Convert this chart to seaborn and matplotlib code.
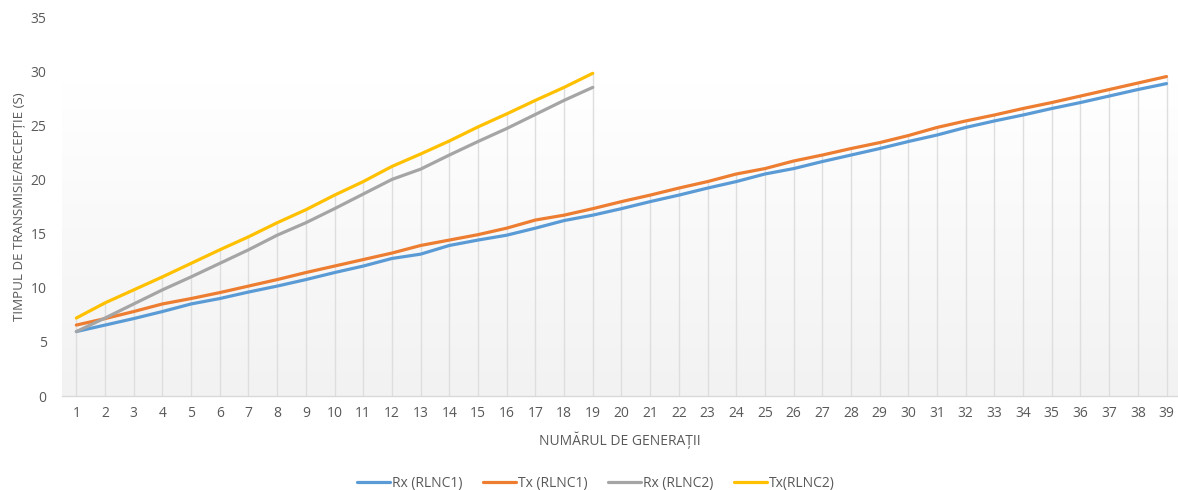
import numpy as np
import pandas as pd
import matplotlib
matplotlib.use("Agg")
import matplotlib.pyplot as plt
import seaborn as sns

# Generation index and measured transmission/reception times (seconds)
gen_rlnc1 = list(range(1, 40))
gen_rlnc2 = list(range(1, 20))

rx_rlnc1 = [5.95, 6.55, 7.15, 7.8, 8.5, 9.0, 9.6, 10.15, 10.75, 11.4,
            12.0, 12.7, 13.1, 13.9, 14.4, 14.85, 15.5, 16.2, 16.7, 17.3,
            17.95, 18.55, 19.2, 19.8, 20.5, 21.0, 21.65, 22.25, 22.85, 23.5,
            24.1, 24.8, 25.4, 25.95, 26.55, 27.1, 27.7, 28.3, 28.85]
tx_rlnc1 = [6.55, 7.15, 7.8, 8.5, 9.0, 9.55, 10.15, 10.75, 11.4, 12.0,
            12.6, 13.2, 13.9, 14.4, 14.9, 15.5, 16.25, 16.7, 17.3, 17.95,
            18.55, 19.2, 19.8, 20.5, 21.0, 21.7, 22.25, 22.85, 23.4, 24.05,
            24.8, 25.4, 25.95, 26.55, 27.1, 27.7, 28.3, 28.9, 29.5]
rx_rlnc2 = [5.95, 7.2, 8.5, 9.8, 11.0, 12.25, 13.5, 14.85, 16.0, 17.3,
            18.65, 20.0, 20.95, 22.25, 23.5, 24.7, 26.0, 27.3, 28.5]
tx_rlnc2 = [7.2, 8.6, 9.8, 11.0, 12.25, 13.5, 14.7, 16.0, 17.2, 18.55,
            19.8, 21.2, 22.35, 23.55, 24.85, 26.05, 27.3, 28.5, 29.8]

series_names = ["Rx (RLNC1)", "Tx (RLNC1)", "Rx (RLNC2)", "Tx(RLNC2)"]
series_colors = ["#5b9bd5", "#ed7d31", "#a5a5a5", "#ffc000"]

frames = [
    pd.DataFrame({"gen": gen_rlnc1, "time": rx_rlnc1, "series": series_names[0]}),
    pd.DataFrame({"gen": gen_rlnc1, "time": tx_rlnc1, "series": series_names[1]}),
    pd.DataFrame({"gen": gen_rlnc2, "time": rx_rlnc2, "series": series_names[2]}),
    pd.DataFrame({"gen": gen_rlnc2, "time": tx_rlnc2, "series": series_names[3]}),
]
df = pd.concat(frames, ignore_index=True)

sns.set_theme(style="white")
plt.rcParams["font.family"] = ["Open Sans", "DejaVu Sans"]

fig = plt.figure(figsize=(11.78, 4.90), dpi=100)
ax = fig.add_axes([62 / 1178, 94 / 490, (1178 - 62) / 1178, (396 - 17) / 490])

x_lo, x_hi = 0.5, 39.4

# soft vertical gradient behind the plot: light grey at the bottom, white at the top
grad_top = 28.9
grad = np.linspace(0.0, 1.0, 256).reshape(-1, 1)
cmap = matplotlib.colors.LinearSegmentedColormap.from_list("bg", ["#f2f2f2", "#ffffff"])
ax.imshow(grad, extent=(x_lo, x_hi, 0, grad_top), aspect="auto", cmap=cmap,
          origin="lower", zorder=0, interpolation="bicubic")

# drop lines from the highest series value at each generation
top = df.groupby("gen")["time"].max()
ax.vlines(top.index, 0, top.values, colors="#dedede", linewidth=1.0, zorder=1)

sns.lineplot(data=df, x="gen", y="time", hue="series", hue_order=series_names,
             palette=series_colors, linewidth=2.3, ax=ax, zorder=3)

ax.set_xlim(x_lo, x_hi)
ax.set_ylim(0, 35)
ax.set_xticks(gen_rlnc1)
ax.set_yticks(range(0, 36, 5))
ax.tick_params(axis="both", labelsize=10, labelcolor="#595959", length=0)
ax.tick_params(axis="y", pad=11)
ax.tick_params(axis="x", pad=7)

for side in ["top", "right", "left"]:
    ax.spines[side].set_visible(False)
ax.spines["bottom"].set_color("#d9d9d9")
ax.spines["bottom"].set_linewidth(1.0)
ax.grid(False)
ax.set_facecolor("none")

ax.set_xlabel("NUMĂRUL DE GENERAȚII", fontsize=10, color="#595959", labelpad=8)
ax.set_ylabel("TIMPUL DE TRANSMISIE/RECEPȚIE (S)", fontsize=9.6, color="#595959")
ax.yaxis.set_label_coords(-36 / 1116, 0.5)

handles, labels = ax.get_legend_handles_labels()
ax.legend(handles, labels, loc="center", bbox_to_anchor=(596 / 1178, 7 / 490),
          bbox_transform=fig.transFigure, ncol=4, frameon=False, fontsize=10,
          labelcolor="#595959", handlelength=2.4, handletextpad=0.15,
          columnspacing=1.45, borderaxespad=0, borderpad=0)

fig.savefig("out.png", dpi=100)
